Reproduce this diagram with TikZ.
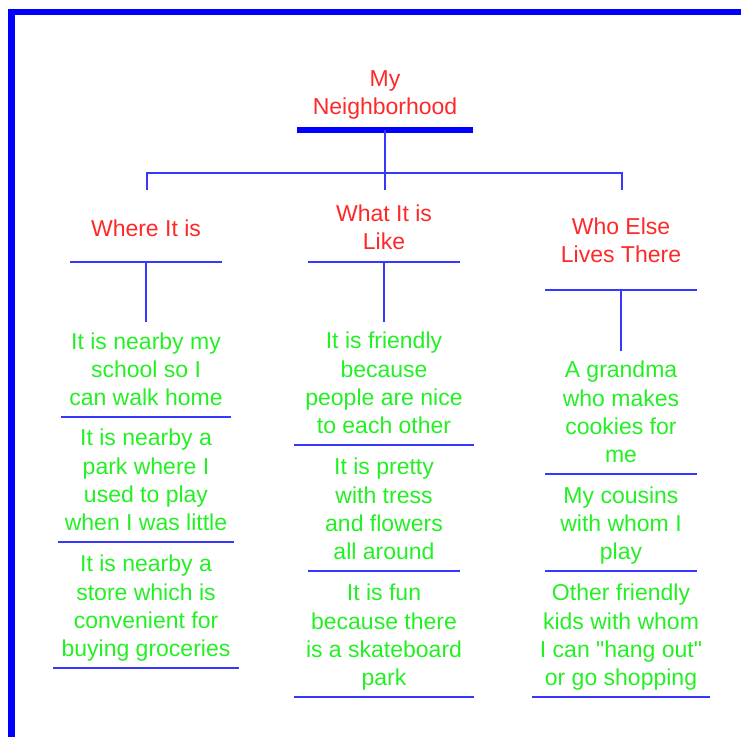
\documentclass[tikz,border=0pt]{standalone}
\usepackage{fontspec}
\setmainfont{Liberation Sans}
\definecolor{headred}{RGB}{255,40,40}
\definecolor{leafgreen}{RGB}{35,240,35}
\definecolor{lineblue}{RGB}{55,55,255}
\definecolor{frameblue}{RGB}{0,0,255}

\begin{document}
\begin{tikzpicture}[x=1pt, y=-1pt,
  every node/.style={align=center, anchor=south, inner xsep=0pt, inner ysep=2.5pt,
    font=\fontsize{23}{28.3}\selectfont,
    execute at begin node=\strut, execute at end node=\strut},
  head/.style={text=headred, minimum width=152pt},
  leaf/.style={text=leafgreen},
  link/.style={lineblue, line width=2pt},
  uline/.style={lineblue, line width=2pt}]
  \useasboundingbox (0,0) rectangle (741,736);
  % frame
  \draw[frameblue, line width=6.5pt] (11.5,760) -- (11.5,12) -- (760,12);

  \node[head, minimum width=176pt, inner ysep=6.5pt] (root) at (385,130) {My\\Neighborhood};
  \node[head, inner ysep=16.5pt] (where) at (146,262) {Where It is};
  \node[head, inner ysep=3.5pt] (what) at (384,262) {What It is\\Like};
  \node[head, inner ysep=18.5pt] (who) at (621,290) {Who Else\\Lives There};

  \node[leaf, minimum width=170pt] (school) at (146,417) {It is nearby my\\school so I\\can walk home};
  \node[leaf, minimum width=176pt] (park) at (146,542) {It is nearby a\\park where I\\used to play\\when I was little};
  \node[leaf, minimum width=185pt] (store) at (146,668) {It is nearby a\\store which is\\convenient for\\buying groceries};

  \node[leaf, minimum width=179pt] (friendly) at (384,445) {It is friendly\\because\\people are nice\\to each other};
  \node[leaf, minimum width=152pt] (pretty) at (384,571) {It is pretty\\with tress\\and flowers\\all around};
  \node[leaf, minimum width=179pt] (fun) at (384,697) {It is fun\\because there\\is a skateboard\\park};

  \node[leaf, minimum width=152pt] (grandma) at (621,474) {A grandma\\who makes\\cookies for\\me};
  \node[leaf, minimum width=152pt] (cousins) at (621,571) {My cousins\\with whom I\\play};
  \node[leaf, minimum width=178pt] (kids) at (621,697) {Other friendly\\kids with whom\\I can \textquotedbl hang out\textquotedbl\\or go shopping};

  \coordinate (dropL) at (147,190);
  \coordinate (dropM) at (385,190);
  \coordinate (dropR) at (622,190);

  % Draw the bars under the texts
  \draw[frameblue, line width=6pt] (root.south west) -- (root.south east);
  \foreach \n in {where, what, who, school, park, store, friendly, pretty, fun, grandma, cousins, kids}
    \draw[uline] (\n.south west) -- (\n.south east);

  % Draw the tree lines
  \draw[link] (root.south) -- (dropM);
  \draw[link] (dropL) -- ++(0,-17) -| (dropR);
  \draw[link, shorten >=8pt] (where.south) -- (school.north);
  \draw[link, shorten >=8pt] (what.south) -- (friendly.north);
  \draw[link, shorten >=8pt] (who.south) -- (grandma.north);
\end{tikzpicture}
\end{document}
